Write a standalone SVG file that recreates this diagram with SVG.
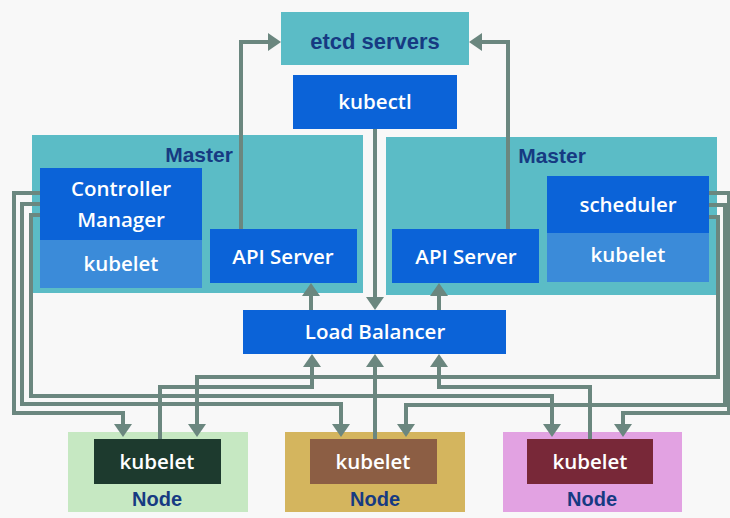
<svg xmlns="http://www.w3.org/2000/svg" width="730" height="518" viewBox="0 0 730 518">
<defs>
<style>
.teal{fill:#5bbcc6}
.blue{fill:#0b63d8}
.lblue{fill:#3b8bd9}
.wt{fill:#ffffff;font-family:"Open Sans","Liberation Sans",sans-serif;font-weight:600;font-size:20.5px;text-anchor:middle;dominant-baseline:central}
.nv{fill:#163a82;font-family:"Liberation Sans",Arial,sans-serif;font-weight:bold;text-anchor:middle;dominant-baseline:central}
.c{fill:none;stroke:#6b877f;stroke-width:4;marker-end:url(#ah)}
</style>
<marker id="ah" markerUnits="userSpaceOnUse" markerWidth="15" markerHeight="18" refX="2" refY="9" orient="auto">
<path d="M0,0 L13,9 L0,18 z" fill="#6b877f"/>
</marker>
</defs>
<rect width="730" height="518" fill="#f8f8f8"/>
<g id="etcd"><rect class="teal" x="281" y="12" width="188" height="53"/><text class="nv" x="375" y="41" font-size="22">etcd servers</text></g>
<g id="kubectl"><rect class="blue" x="293" y="75" width="164" height="54"/><text class="wt" x="375" y="101">kubectl</text></g>
<g id="master-left"><rect class="teal" x="32" y="135" width="331" height="158"/><text class="nv" x="199" y="154" font-size="21">Master</text>
<rect class="blue" x="40" y="168" width="162" height="72"/><text class="wt" x="121" y="188">Controller</text><text class="wt" x="121" y="219">Manager</text>
<rect class="lblue" x="40" y="240" width="162" height="48"/><text class="wt" x="121" y="263">kubelet</text>
<rect class="blue" x="210" y="229" width="147" height="54"/><text class="wt" x="283" y="256">API Server</text></g>
<g id="master-right"><rect class="teal" x="386" y="137" width="331" height="158"/><text class="nv" x="552" y="155" font-size="21">Master</text>
<rect class="blue" x="392" y="229" width="147" height="54"/><text class="wt" x="466" y="256">API Server</text>
<rect class="blue" x="547" y="176" width="162" height="57"/><text class="wt" x="628" y="204">scheduler</text>
<rect class="lblue" x="547" y="233" width="162" height="49"/><text class="wt" x="628" y="254">kubelet</text></g>
<g id="lb"><rect class="blue" x="243" y="310" width="263" height="44"/><text class="wt" x="375" y="331">Load Balancer</text></g>
<g id="node1"><rect x="68" y="432" width="180" height="80" fill="#c6e8c2"/><rect x="94" y="439" width="127" height="45" fill="#1d3a2e"/><text class="wt" x="157" y="461">kubelet</text><text class="nv" x="157" y="499" font-size="20">Node</text></g>
<g id="node2"><rect x="285" y="432" width="180" height="80" fill="#d4b55e"/><rect x="310" y="439" width="127" height="45" fill="#8c5e44"/><text class="wt" x="373" y="461">kubelet</text><text class="nv" x="375" y="499" font-size="20">Node</text></g>
<g id="node3"><rect x="503" y="432" width="179" height="80" fill="#e2a2e2"/><rect x="527" y="439" width="126" height="45" fill="#782838"/><text class="wt" x="590" y="461">kubelet</text><text class="nv" x="592" y="499" font-size="20">Node</text></g>
<g id="connectors">
<path class="c" d="M241,229 V42 H270"/>
<path class="c" d="M508,229 V42 H480"/>
<path class="c" d="M375,129 V299"/>
<path class="c" d="M311,310 V294"/>
<path class="c" d="M439,310 V294"/>
<path class="c" d="M160,439 V387 H312 V365"/>
<path class="c" d="M375,439 V365"/>
<path class="c" d="M590,439 V387 H439 V365"/>
<path class="c" d="M40,193 H14 V413 H123 V426"/>
<path class="c" d="M40,204 H22 V404 H341 V426"/>
<path class="c" d="M40,215 H31 V396 H552 V426"/>
<path class="c" d="M709,217 H718 V377 H197 V426"/>
<path class="c" d="M709,205 H725 V405 H406 V426"/>
<path class="c" d="M709,193 H729 V413 H623 V426"/>
</g>
</svg>
